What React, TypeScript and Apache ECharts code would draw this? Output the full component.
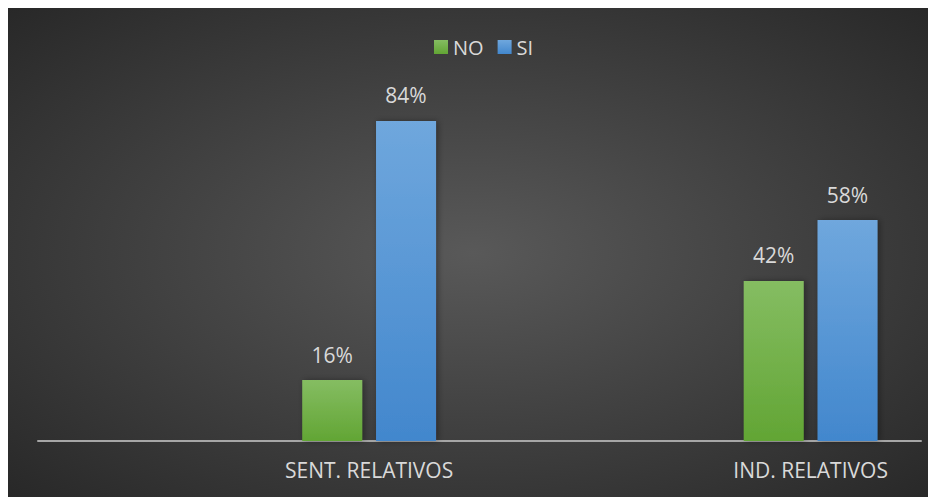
import React, { useEffect, useRef } from "react";
import * as echarts from "echarts";

const categories = ["", "SENT. RELATIVOS", "", "IND. RELATIVOS"];
const noValues = [null, 16, null, 42];
const siValues = [null, 84, null, 58];
const seriesNames = ["NO", "SI"];

const FONT = "'Open Sans', 'Noto Sans', sans-serif";

export default function App() {
  const ref = useRef<HTMLDivElement>(null);
  useEffect(() => {
    if (!ref.current) return;
    const chart = echarts.init(ref.current, undefined, { renderer: "svg" });
    const labelCfg = {
      show: true,
      position: "top",
      distance: 15,
      color: "#d9d9d9",
      fontSize: 21,
      fontFamily: FONT,
      formatter: (p: any) => p.value + "%",
    };
    chart.setOption({
      animation: false,
      backgroundColor: {
        type: "radial",
        x: 0.5,
        y: 0.5,
        r: 0.75,
        colorStops: [
          { offset: 0, color: "#595959" },
          { offset: 1, color: "#252525" },
        ],
      },
      legend: {
        top: 24,
        left: 421,
        itemWidth: 14,
        itemHeight: 14,
        itemGap: 14,
        icon: "rect",
        textStyle: { color: "#d9d9d9", fontSize: 20, fontFamily: FONT },
        data: seriesNames,
      },
      grid: { left: 30, right: 15, top: 52, bottom: 57, containLabel: false },
      xAxis: {
        type: "category",
        data: categories,
        axisLine: { lineStyle: { color: "#a6a6a6", width: 2 } },
        axisTick: { show: false },
        axisLabel: { color: "#d9d9d9", fontSize: 21, fontFamily: FONT, margin: 18, interval: 0 },
      },
      yAxis: {
        type: "value",
        min: 0,
        max: 100,
        show: false,
        splitLine: { show: false },
      },
      series: [
        {
          name: seriesNames[0],
          type: "bar",
          data: noValues,
          barWidth: 60,
          barGap: "23%",
          itemStyle: {
            color: new echarts.graphic.LinearGradient(0, 0, 0, 1, [
              { offset: 0, color: "#85bd62" },
              { offset: 1, color: "#62a534" },
            ]),
            shadowColor: "rgba(0,0,0,0.35)",
            shadowBlur: 6,
            shadowOffsetX: 2,
          },
          label: labelCfg,
        },
        {
          name: seriesNames[1],
          type: "bar",
          data: siValues,
          barWidth: 60,
          itemStyle: {
            color: new echarts.graphic.LinearGradient(0, 0, 0, 1, [
              { offset: 0, color: "#6fa7dd" },
              { offset: 1, color: "#4287cd" },
            ]),
            shadowColor: "rgba(0,0,0,0.35)",
            shadowBlur: 6,
            shadowOffsetX: 2,
          },
          label: labelCfg,
        },
      ],
    });
    return () => chart.dispose();
  }, []);
  return <div ref={ref} style={{ width: 928, height: 490 }} />;
}
